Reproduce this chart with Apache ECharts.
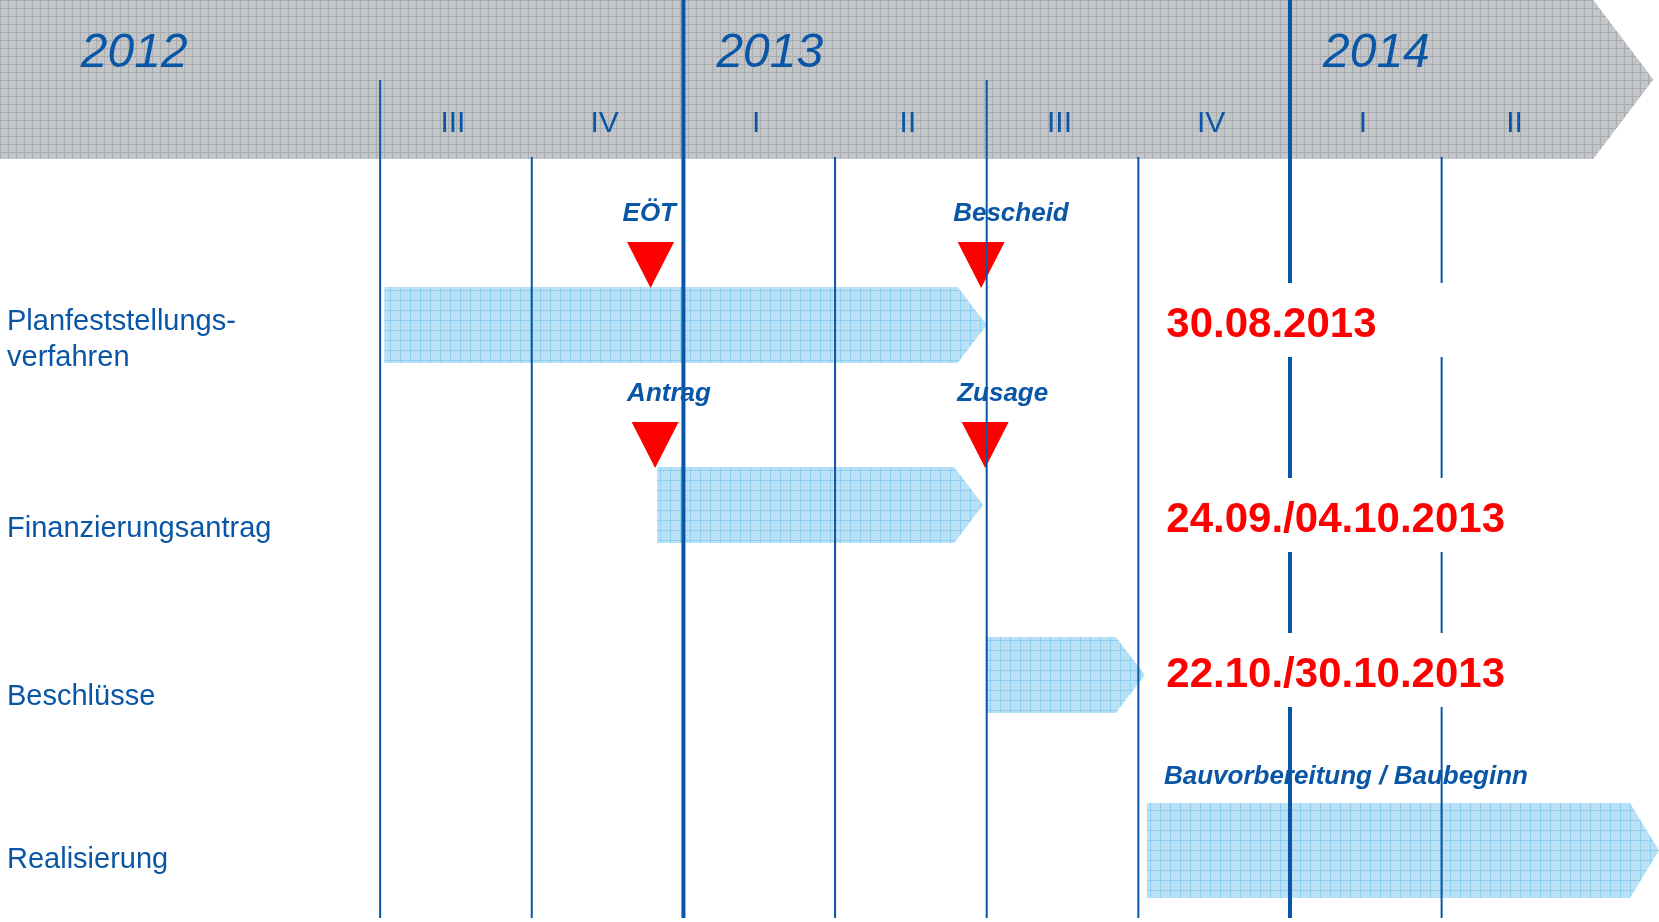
<!DOCTYPE html>
<html><head><meta charset="utf-8">
<script src="https://cdn.jsdelivr.net/npm/echarts@6/dist/echarts.min.js"></script>
<style>html,body{margin:0;padding:0;background:#fff}#c{width:1659px;height:922px}</style>
</head><body><div id="c"></div>
<script>
// ---- data (months counted from 1 Jan 2012) ----
const years = ['2012', '2013', '2014'];
const yearStartMonth = [0, 12, 24];
const quarterLabels = ['III', 'IV', 'I', 'II', 'III', 'IV', 'I', 'II'];
const quarterStartMonth = [6, 9, 12, 15, 18, 21, 24, 27];
const rowNames = ['Planfeststellungs-\nverfahren', 'Finanzierungsantrag', 'Beschlüsse', 'Realisierung'];
const barStartMonth = [6.08, 11.48, 17.98, 21.17];
const barEndMonth = [18.0, 17.93, 21.13, 31.3];
const barNotes = ['', '', '', 'Bauvorbereitung / Baubeginn'];
const milestoneNames = ['EÖT', 'Bescheid', 'Antrag', 'Zusage'];
const milestoneMonth = [11.35, 17.89, 11.44, 17.97];
const milestoneRow = [0, 0, 1, 1];
const dateLabels = ['30.08.2013', '24.09./04.10.2013', '22.10./30.10.2013'];
const dateLabelRow = [0, 1, 2];

// ---- layout / styles ----
const BLUE = '#0a56a6';
const FONT = '"Liberation Sans", Arial, Helvetica, sans-serif';
const ROW_ADJUST = [-2, 3, -2, -1.5];     // fine pixel adjustment of lanes
const ROW_LABEL_DY = [15, 24, 22, 9.5];
const DATE_DY = [-5, 10, -5];
function rowY(api, row) { return api.coord([0, row])[1] + ROW_ADJUST[row]; }

function makePattern(size, base, alt, line) {
  const c = document.createElement('canvas');
  c.width = c.height = size;
  const g = c.getContext('2d');
  g.fillStyle = base; g.fillRect(0, 0, size, size);
  g.fillStyle = alt;
  for (let y = 0; y < size; y++) for (let x = 0; x < size; x++) if ((x + y) % 2 === 0) g.fillRect(x, y, 1, 1);
  g.fillStyle = line; g.fillRect(0, 0, size, 1); g.fillRect(0, 0, 1, size);
  return c;
}
const grayPat = { image: makePattern(8, '#c9cbce', '#bdc0c3', '#a9acaf'), repeat: 'repeat' };
const bluePat = { image: makePattern(10, '#c2e4f7', '#b3ddf4', '#8ecef0'), repeat: 'repeat' };

const HEADER_H = 159;
const lastMonth = quarterStartMonth[quarterStartMonth.length - 1] + 3;

const chart = echarts.init(document.getElementById('c'), null, { renderer: 'canvas' });
const option = {
  animation: false,
  grid: { left: 0, right: 0, top: 0, bottom: 0 },
  xAxis: { type: 'value', min: -1.52, max: 31.3, show: false },
  yAxis: { type: 'value', min: -1.8686, max: 3.4, inverse: true, show: false },
  series: [
    { // header band
      type: 'custom', z: 1, silent: true,
      data: [[lastMonth, 0]],
      renderItem(params, api) {
        const xe = api.coord([api.value(0), 0])[0];
        return { type: 'polygon', shape: { points: [[0, 0], [xe, 0], [xe + 60, HEADER_H / 2], [xe, HEADER_H], [0, HEADER_H]] },
          style: { fill: grayPat } };
      }
    },
    { // year labels
      type: 'custom', z: 5, silent: true,
      data: years.map((y, i) => [yearStartMonth[i], 0]),
      renderItem(params, api) {
        const x = api.coord([api.value(0), 0])[0] + (params.dataIndex === 0 ? 4 : 33);
        return { type: 'text', style: { text: years[params.dataIndex], x: x, y: 53.5, fill: BLUE,
          font: 'italic 48px ' + FONT, align: 'left', verticalAlign: 'middle' } };
      }
    },
    { // quarter labels
      type: 'custom', z: 5, silent: true,
      data: quarterLabels.map((q, i) => [quarterStartMonth[i] + 1.5, 0]),
      renderItem(params, api) {
        const x = api.coord([api.value(0), 0])[0] - 3;
        return { type: 'text', style: { text: quarterLabels[params.dataIndex], x: x, y: 124, fill: BLUE,
          font: '30px ' + FONT, align: 'center', verticalAlign: 'middle' } };
      }
    },
    { // bars
      type: 'custom', z: 2, silent: true,
      data: rowNames.map((r, i) => [barStartMonth[i], barEndMonth[i], i]),
      renderItem(params, api) {
        const row = api.value(2);
        const x0 = api.coord([api.value(0), row])[0];
        const x1 = api.coord([api.value(1), row])[0];
        const h = row === 3 ? 95 : 76;
        const head = 29;
        const yc = rowY(api, row);
        const children = [{ type: 'polygon', shape: { points: [[x0, yc - h / 2], [x1 - head, yc - h / 2], [x1, yc], [x1 - head, yc + h / 2], [x0, yc + h / 2]] },
          style: { fill: bluePat } }];
        const note = barNotes[params.dataIndex];
        if (note) children.push({ type: 'text', style: { text: note, x: x0 + 17, y: yc - h / 2 - 26, fill: BLUE,
          font: 'italic bold 26px ' + FONT, align: 'left', verticalAlign: 'middle' } });
        return { type: 'group', children };
      }
    },
    { // milestones
      type: 'custom', z: 3, silent: true,
      data: milestoneNames.map((n, i) => [milestoneMonth[i], milestoneRow[i]]),
      renderItem(params, api) {
        const row = api.value(1);
        const tx = api.coord([api.value(0), row])[0];
        const tipY = rowY(api, row) - 37;
        return { type: 'group', children: [
          { type: 'polygon', shape: { points: [[tx - 23.5, tipY - 46], [tx + 23.5, tipY - 46], [tx, tipY]] }, style: { fill: '#ff0000' } },
          { type: 'text', style: { text: milestoneNames[params.dataIndex], x: tx - 28, y: tipY - 74, fill: BLUE,
            font: 'italic bold 26px ' + FONT, align: 'left', verticalAlign: 'middle' } }
        ] };
      }
    },
    { // vertical quarter / year lines
      type: 'custom', z: 6, silent: true,
      data: quarterStartMonth.map(m => [m, 0]),
      renderItem(params, api) {
        const m = api.value(0);
        const x = api.coord([m, 0])[0];
        const isYear = m % 12 === 0;
        const top = isYear ? 0 : (m % 12 === 6 ? 80 : HEADER_H - 2);
        return { type: 'line', shape: { x1: x, y1: top, x2: x, y2: 918 },
          style: { stroke: BLUE, lineWidth: isYear ? 4 : 2 } };
      }
    },
    { // row labels
      type: 'custom', z: 5, silent: true,
      data: rowNames.map((r, i) => [-1.52, i]),
      renderItem(params, api) {
        const row = api.value(1);
        return { type: 'text', style: { text: rowNames[params.dataIndex], x: 7, y: rowY(api, row) + ROW_LABEL_DY[row], fill: BLUE,
          font: '29px ' + FONT, lineHeight: 36, align: 'left', verticalAlign: 'middle' } };
      }
    },
    { // date labels with white boxes
      type: 'custom', z: 8, silent: true,
      data: dateLabels.map((d, i) => [quarterStartMonth[5], dateLabelRow[i]]),
      renderItem(params, api) {
        const row = api.value(1);
        const x = api.coord([api.value(0), row])[0] + 9;
        const yc = rowY(api, row) + DATE_DY[params.dataIndex];
        return { type: 'group', children: [
          { type: 'rect', shape: { x: x, y: yc - 37, width: 400, height: 74 }, style: { fill: '#ffffff' } },
          { type: 'text', style: { text: dateLabels[params.dataIndex], x: x + 19, y: yc + 5, fill: '#ff0000',
            font: 'bold 42px ' + FONT, align: 'left', verticalAlign: 'middle' } }
        ] };
      }
    }
  ]
};
chart.setOption(option);
</script>
</body></html>
